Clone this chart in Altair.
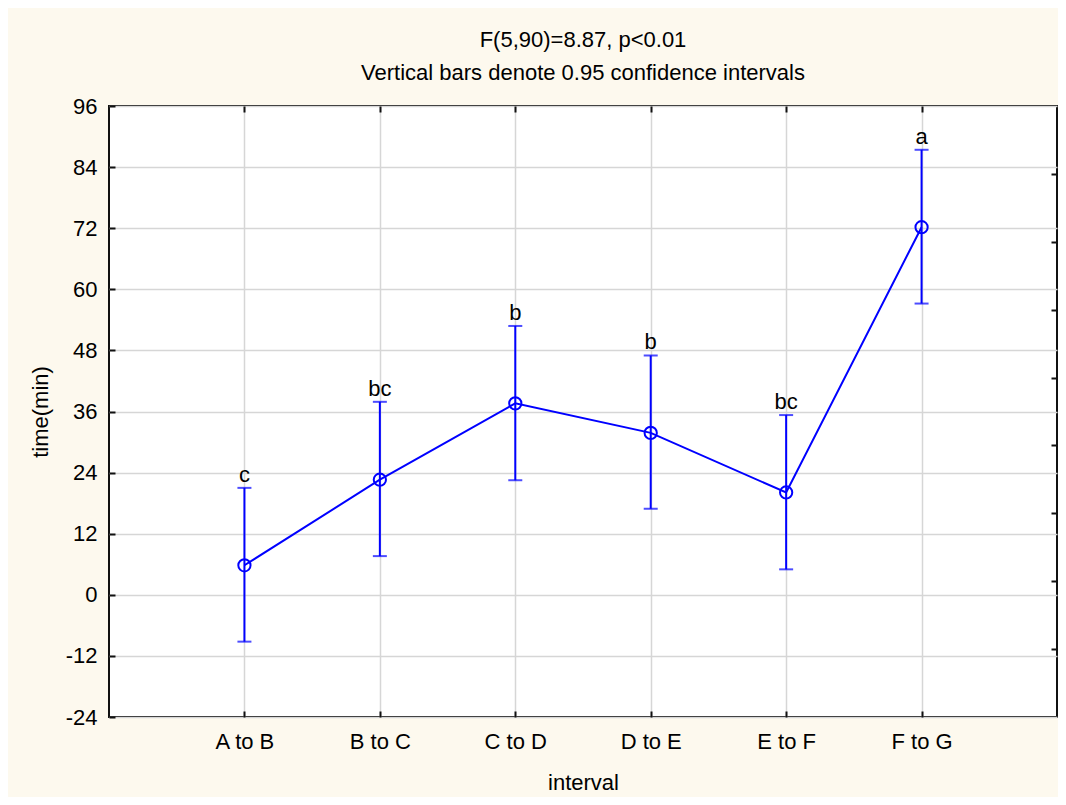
import altair as alt
import pandas as pd

intervals = ["A to B", "B to C", "C to D", "D to E", "E to F", "F to G"]
means = [5.8, 22.6, 37.6, 31.8, 20.1, 72.2]
lower = [-9.2, 7.6, 22.5, 16.9, 5.0, 57.2]
upper = [21.0, 37.9, 52.8, 47.0, 35.3, 87.4]
letters = ["c", "bc", "b", "b", "bc", "a"]

y_ticks = [-24, -12, 0, 12, 24, 36, 48, 60, 72, 84, 96]
right_ticks = [82.67, 69.33, 56.0, 42.67, 29.33, 16.0, 2.67, -10.67]

df = pd.DataFrame({"interval": intervals, "mean": means, "lower": lower,
                   "upper": upper, "letter": letters})

FONT = "Liberation Sans"
BLUE = "#0000FF"
GRID = "#d6d6d6"
FS = 22

xs = alt.Scale(type="point", padding=1, domain=intervals)
ys = alt.Scale(domain=[-24, 96], nice=False, zero=False)

base = alt.Chart(df)

# error bars with main labelled axes
bars = base.mark_rule(color=BLUE, strokeWidth=2).encode(
    x=alt.X("interval:N", scale=xs, sort=intervals,
            axis=alt.Axis(orient="bottom", title="interval", labelAngle=0,
                          ticks=False, domain=False, grid=True,
                          gridColor=GRID, gridWidth=1.5,
                          labelFontSize=FS, labelPadding=14,
                          titleFontSize=FS, titleFontWeight="normal",
                          titlePadding=20, labelFont=FONT, titleFont=FONT,
                          labelColor="black", titleColor="black")),
    y=alt.Y("lower:Q", scale=ys,
            axis=alt.Axis(orient="left", title="time(min)", values=y_ticks,
                          labelExpr="'' + datum.value",
                          ticks=False, domain=False, grid=True,
                          gridColor=GRID, gridWidth=1.5,
                          labelFontSize=FS, labelPadding=12,
                          titleFontSize=FS, titleFontWeight="normal",
                          titlePadding=13, labelFont=FONT, titleFont=FONT,
                          labelColor="black", titleColor="black")),
    y2="upper:Q",
)

tick_axis = dict(labels=False, domain=False, grid=False, title=None,
                 tickSize=6, tickWidth=2, tickColor="#111111", offset=-6)

caps_up = base.mark_tick(color=BLUE, size=14, thickness=2).encode(
    x=alt.X("interval:N", scale=xs, sort=intervals,
            axis=alt.Axis(orient="top", **tick_axis)),
    y=alt.Y("upper:Q", scale=ys,
            axis=alt.Axis(orient="left", values=y_ticks, **tick_axis)),
)

caps_low = base.mark_tick(color=BLUE, size=14, thickness=2).encode(
    x=alt.X("interval:N", scale=xs, sort=intervals,
            axis=alt.Axis(orient="bottom", **tick_axis)),
    y=alt.Y("lower:Q", scale=ys,
            axis=alt.Axis(orient="right", values=right_ticks, **tick_axis)),
)

line = base.mark_line(color=BLUE, strokeWidth=2).encode(
    x=alt.X("interval:N", scale=xs, sort=intervals, axis=None),
    y=alt.Y("mean:Q", scale=ys, axis=None),
)

pts = base.mark_point(color=BLUE, shape="circle", filled=False, size=150,
                      strokeWidth=2, opacity=1).encode(
    x=alt.X("interval:N", scale=xs, sort=intervals, axis=None),
    y=alt.Y("mean:Q", scale=ys, axis=None),
)

labels = base.mark_text(font=FONT, fontSize=FS, color="black",
                        baseline="bottom", dy=-1).encode(
    x=alt.X("interval:N", scale=xs, sort=intervals, axis=None),
    y=alt.Y("upper:Q", scale=ys, axis=None),
    text="letter:N",
)

chart = alt.layer(bars, caps_up, caps_low, line, pts, labels).resolve_axis(
    x="independent", y="independent"
).properties(
    width=948,
    height=611,
    title=alt.TitleParams(
        text=["F(5,90)=8.87, p<0.01", "Vertical bars denote 0.95 confidence intervals"],
        font=FONT, fontSize=FS, fontWeight="normal", color="black",
        lineHeight=33, anchor="middle", offset=10,
    ),
    padding={"left": 101, "top": 98, "right": 1, "bottom": 80},
    autosize=alt.AutoSizeParams(type="none"),
    background="#FDF9EE",
).configure_view(
    fill="white", stroke="#111111", strokeWidth=2
)

chart.save("out.html", embed_options={"renderer": "svg", "actions": False})
